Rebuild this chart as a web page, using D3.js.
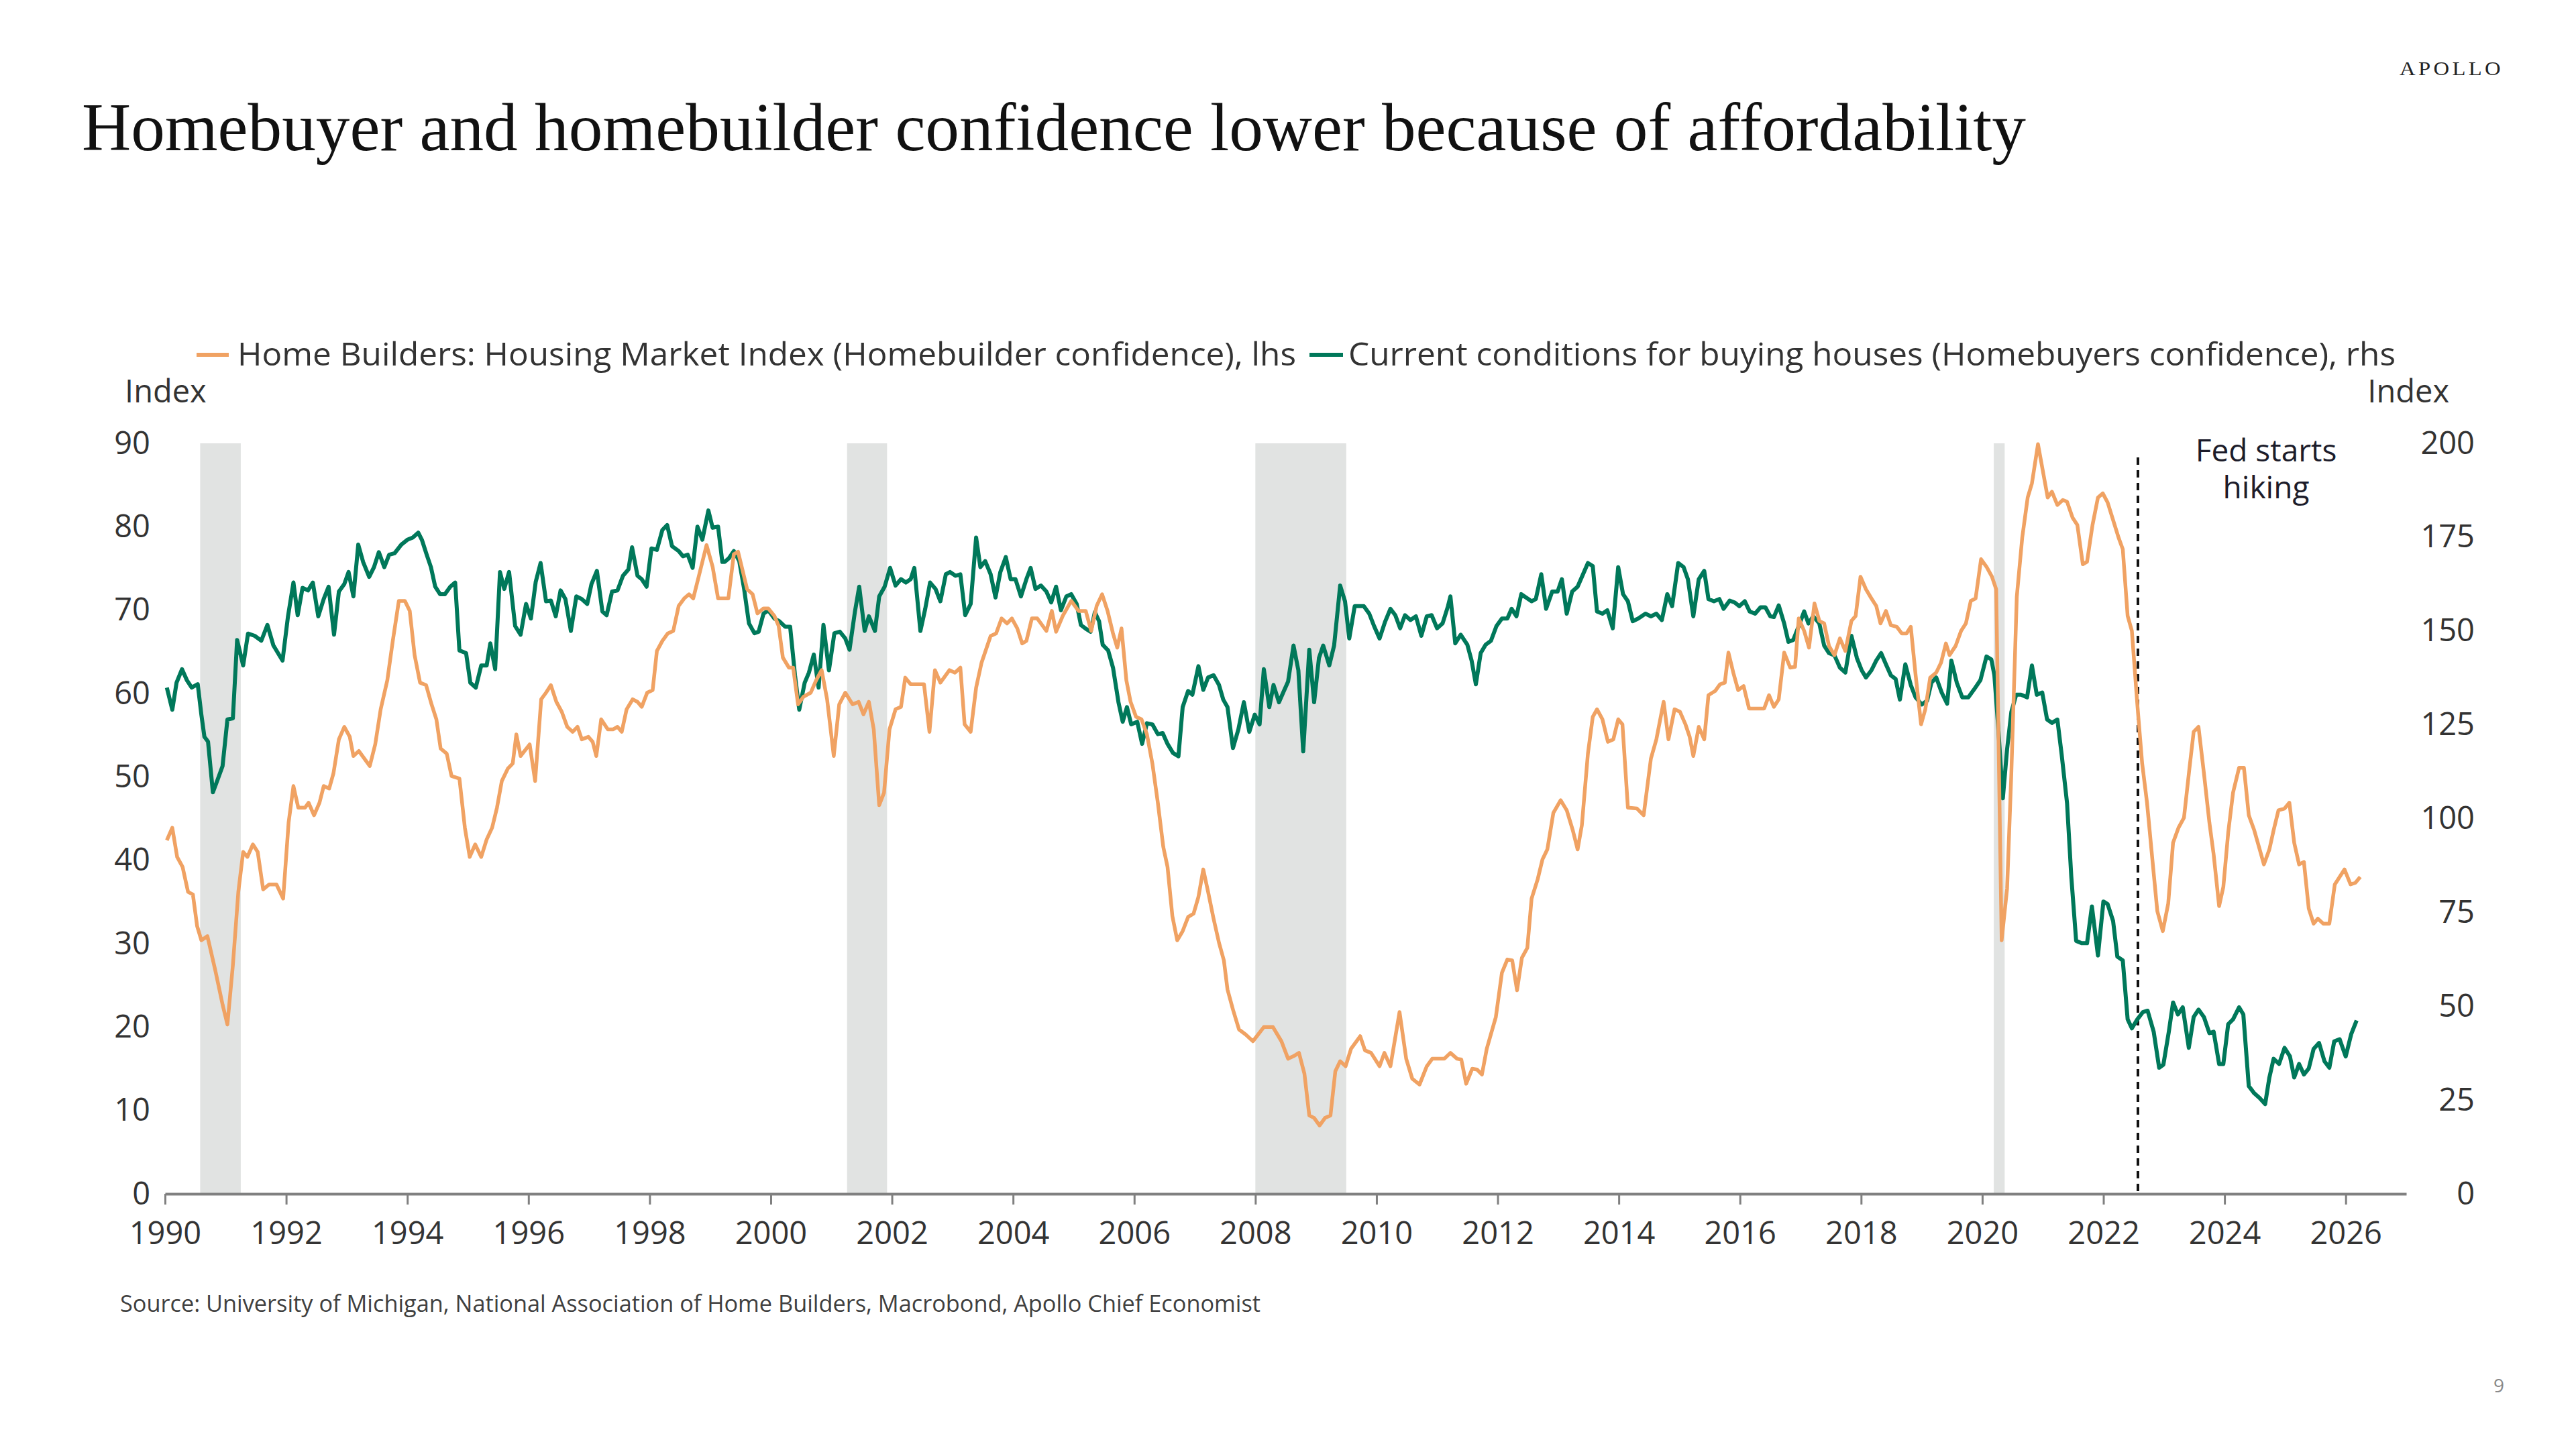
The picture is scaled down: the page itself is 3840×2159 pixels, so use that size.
<!DOCTYPE html>
<html><head><meta charset="utf-8">
<script src="https://cdn.jsdelivr.net/npm/d3@7"></script>
<style>body{margin:0;background:#fff} svg{display:block}</style>
</head><body>
<svg id="c" width="3840" height="2159"></svg>
<script>
// ---------- data ----------
const xTickYears = [1990,1992,1994,1996,1998,2000,2002,2004,2006,2008,2010,2012,2014,2016,2018,2020,2022,2024,2026];
const leftTicks = [0,10,20,30,40,50,60,70,80,90];
const rightTicks = [0,25,50,75,100,125,150,175,200];
const recessions = [[1990.58,1991.25],[2001.26,2001.92],[2008.0,2009.5],[2020.19,2020.37]];
const fedHike = 2022.57;
const titleText = "Homebuyer and homebuilder confidence lower because of affordability";
const legendLabels = ["Home Builders: Housing Market Index (Homebuilder confidence), lhs",
                      "Current conditions for buying houses (Homebuyers confidence), rhs"];
const sourceText = "Source: University of Michigan, National Association of Home Builders, Macrobond, Apollo Chief Economist";

// Home builders HMI (lhs) [decimal year, index]
const builderConfidence = [
[1990.03,42.4],[1990.12,43.9],[1990.20,40.4],[1990.29,39.2],[1990.38,36.2],[1990.46,35.9],[1990.53,32.1],[1990.60,30.4],[1990.70,30.9],[1990.83,26.8],[1990.95,22.7],[1991.03,20.3],[1991.12,27.4],[1991.21,36.2],[1991.29,41.0],[1991.36,40.4],[1991.45,41.9],[1991.53,41.0],[1991.62,36.5],[1991.72,37.1],[1991.84,37.1],[1991.95,35.4],
[1992.04,44.5],[1992.12,48.9],[1992.20,46.3],[1992.31,46.3],[1992.37,46.9],[1992.46,45.4],[1992.55,46.9],[1992.62,48.9],[1992.71,48.6],[1992.78,50.4],[1992.87,54.5],[1992.96,56.0],[1993.05,54.8],[1993.11,52.5],[1993.20,53.1],[1993.38,51.3],[1993.47,53.9],[1993.56,58.1],[1993.67,61.6],[1993.76,66.3],[1993.86,71.1],[1993.96,71.1],
[1994.04,69.9],[1994.12,64.6],[1994.21,61.3],[1994.31,61.0],[1994.40,58.7],[1994.48,56.9],[1994.55,53.4],[1994.65,52.8],[1994.73,50.1],[1994.86,49.8],[1994.95,43.9],[1995.03,40.4],[1995.12,41.9],[1995.22,40.4],[1995.31,42.5],[1995.40,43.9],[1995.48,46.3],[1995.56,49.5],[1995.66,51.0],[1995.74,51.6],[1995.80,55.1],[1995.87,52.5],
[1996.02,53.9],[1996.11,49.5],[1996.21,59.3],[1996.29,60.1],[1996.37,61.0],[1996.46,59.0],[1996.55,57.8],[1996.64,56.0],[1996.73,55.4],[1996.81,56.0],[1996.88,54.5],[1996.99,54.8],[1997.06,54.2],[1997.12,52.5],[1997.20,56.9],[1997.31,55.7],[1997.40,55.7],[1997.47,56.0],[1997.54,55.4],[1997.62,58.1],[1997.72,59.3],[1997.80,59.0],[1997.87,58.4],[1997.96,60.1],
[1998.05,60.4],[1998.12,65.1],[1998.21,66.3],[1998.30,67.2],[1998.39,67.5],[1998.48,70.5],[1998.57,71.4],[1998.65,71.9],[1998.72,71.4],[1998.81,74.0],[1998.94,77.8],[1999.04,75.2],[1999.13,71.4],[1999.24,71.4],[1999.30,71.4],[1999.39,76.7],[1999.46,77.0],[1999.54,74.6],[1999.61,72.5],[1999.70,71.9],[1999.78,69.6],[1999.88,70.2],[1999.96,70.2],
[2000.06,69.3],[2000.13,68.1],[2000.20,64.3],[2000.30,63.1],[2000.37,63.1],[2000.45,58.7],[2000.54,59.6],[2000.66,60.1],[2000.75,61.6],[2000.84,62.8],[2000.93,59.3],[2001.04,52.5],[2001.13,58.7],[2001.23,60.1],[2001.35,58.7],[2001.45,59.0],[2001.53,57.5],[2001.62,59.0],[2001.70,55.7],[2001.79,46.6],[2001.87,48.1],[2001.96,55.7],
[2002.06,58.1],[2002.15,58.4],[2002.22,61.9],[2002.31,61.1],[2002.53,61.1],[2002.62,55.4],[2002.71,62.8],[2002.80,61.3],[2002.95,62.8],[2003.04,62.5],[2003.13,63.1],[2003.20,56.3],[2003.30,55.4],[2003.39,60.7],[2003.48,63.7],[2003.63,66.9],[2003.72,67.2],[2003.81,69.0],[2003.90,68.4],[2003.98,69.0],
[2004.07,67.8],[2004.15,66.0],[2004.22,66.3],[2004.31,69.0],[2004.40,69.0],[2004.55,67.5],[2004.64,69.9],[2004.71,67.4],[2004.82,69.3],[2004.96,71.1],[2005.08,69.9],[2005.20,69.9],[2005.29,67.5],[2005.38,70.5],[2005.47,71.9],[2005.56,69.9],[2005.65,67.2],[2005.72,65.5],[2005.79,67.8],[2005.87,61.6],[2005.94,59.0],
[2006.03,57.2],[2006.12,56.9],[2006.21,55.1],[2006.30,51.6],[2006.39,46.9],[2006.48,41.6],[2006.55,39.2],[2006.63,33.3],[2006.71,30.4],[2006.80,31.5],[2006.89,33.2],[2006.98,33.6],[2007.06,35.6],[2007.14,38.9],[2007.22,36.2],[2007.31,33.0],[2007.40,30.1],[2007.48,28.0],[2007.54,24.5],[2007.63,22.1],[2007.73,19.7],[2007.84,19.1],[2007.96,18.3],
[2008.14,20.0],[2008.29,20.0],[2008.43,18.3],[2008.54,16.2],[2008.63,16.5],[2008.72,16.9],[2008.81,14.4],[2008.89,9.4],[2008.97,9.1],[2009.06,8.2],[2009.15,9.1],[2009.24,9.4],[2009.32,14.7],[2009.40,15.9],[2009.49,15.3],[2009.58,17.4],[2009.73,18.9],[2009.81,17.2],[2009.91,16.9],
[2010.05,15.3],[2010.13,16.9],[2010.23,15.3],[2010.38,21.8],[2010.49,16.2],[2010.59,13.8],[2010.71,13.1],[2010.83,15.3],[2010.92,16.2],[2011.12,16.2],[2011.22,16.9],[2011.33,16.2],[2011.40,16.1],[2011.48,13.2],[2011.58,15.0],[2011.66,14.9],[2011.74,14.3],[2011.82,17.4],[2011.97,21.2],
[2012.07,26.5],[2012.16,28.1],[2012.24,28.0],[2012.32,24.4],[2012.40,28.3],[2012.49,29.5],[2012.56,35.4],[2012.66,37.7],[2012.74,40.1],[2012.82,41.3],[2012.92,45.7],[2013.04,47.2],[2013.14,46.0],[2013.24,43.6],[2013.32,41.3],[2013.39,44.2],[2013.49,52.8],[2013.57,57.2],[2013.64,58.1],[2013.73,56.9],[2013.82,54.2],[2013.91,54.5],[2013.99,56.9],
[2014.06,56.3],[2014.15,46.3],[2014.30,46.2],[2014.41,45.4],[2014.53,52.2],[2014.62,54.5],[2014.74,59.0],[2014.82,54.5],[2014.92,58.1],[2015.01,57.8],[2015.10,56.3],[2015.17,54.8],[2015.23,52.5],[2015.32,56.0],[2015.41,54.5],[2015.48,59.8],[2015.59,60.3],[2015.67,61.1],[2015.75,61.3],[2015.81,64.9],[2015.89,62.5],[2015.97,60.4],
[2016.06,60.9],[2016.15,58.2],[2016.40,58.2],[2016.48,59.8],[2016.56,58.4],[2016.64,59.3],[2016.73,64.9],[2016.83,63.1],[2016.91,63.2],[2016.97,69.0],[2017.06,67.5],[2017.14,65.5],[2017.23,70.8],[2017.31,68.7],[2017.39,68.4],[2017.47,65.7],[2017.56,64.6],[2017.65,66.6],[2017.74,65.1],[2017.84,68.7],[2017.91,69.3],
[2017.99,74.0],[2018.08,72.5],[2018.17,71.4],[2018.25,70.5],[2018.32,68.4],[2018.41,69.9],[2018.49,68.2],[2018.59,68.0],[2018.67,67.2],[2018.75,67.2],[2018.82,68.0],[2018.90,62.2],[2018.99,56.3],[2019.06,58.1],[2019.14,61.9],[2019.24,62.5],[2019.32,63.7],[2019.40,66.0],[2019.46,64.6],[2019.56,65.7],[2019.65,67.5],[2019.73,68.4],[2019.81,71.1],[2019.89,71.4],
[2019.98,76.1],[2020.07,75.2],[2020.16,74.0],[2020.23,72.5],[2020.32,30.4],[2020.41,36.6],[2020.48,50.4],[2020.57,71.6],[2020.66,78.7],[2020.75,83.5],[2020.82,85.2],[2020.92,89.9],[2021.00,86.7],[2021.08,83.5],[2021.15,84.2],[2021.24,82.6],[2021.33,83.2],[2021.40,83.0],[2021.49,81.1],[2021.57,80.2],[2021.66,75.5],[2021.73,75.8],[2021.82,80.2],[2021.91,83.5],
[2021.99,84.0],[2022.07,82.9],[2022.16,80.8],[2022.25,78.7],[2022.32,77.3],[2022.40,69.3],[2022.47,67.5],[2022.56,58.7],[2022.64,51.6],[2022.72,46.9],[2022.82,39.2],[2022.89,33.9],[2022.98,31.5],[2023.07,34.8],[2023.15,42.1],[2023.24,43.9],[2023.33,45.1],[2023.42,51.0],[2023.49,55.4],[2023.57,56.0],[2023.66,50.4],[2023.75,44.5],[2023.82,40.7],[2023.91,34.5],
[2023.98,36.8],[2024.06,43.3],[2024.14,48.1],[2024.24,51.1],[2024.32,51.1],[2024.40,45.4],[2024.49,43.6],[2024.58,41.3],[2024.65,39.5],[2024.74,41.3],[2024.81,43.6],[2024.89,46.0],[2024.99,46.2],[2025.07,46.9],[2025.15,42.1],[2025.23,39.5],[2025.31,39.8],[2025.39,34.2],[2025.47,32.4],[2025.54,33.0],[2025.63,32.4],[2025.73,32.4],[2025.82,37.1],[2025.90,38.0],[2025.98,38.9],[2026.08,37.1],[2026.16,37.3],[2026.24,38.0]
];

// Buying conditions for houses (rhs) [decimal year, index]
const buyerConfidence = [
[1990.03,134.9],[1990.12,129.0],[1990.19,136.2],[1990.28,139.8],[1990.36,136.9],[1990.44,134.9],[1990.54,135.8],[1990.60,127.7],[1990.65,121.8],[1990.71,120.5],[1990.79,107.0],[1990.86,110.0],[1990.95,114.0],[1991.03,126.4],[1991.12,126.7],[1991.19,147.6],[1991.29,140.8],[1991.37,149.3],[1991.48,148.7],[1991.59,147.4],[1991.69,151.6],[1991.79,146.1],[1991.94,142.1],
[1992.03,153.9],[1992.12,162.9],[1992.19,154.2],[1992.27,161.5],[1992.36,160.8],[1992.44,162.9],[1992.53,153.9],[1992.62,158.5],[1992.70,161.8],[1992.79,149.0],[1992.87,160.5],[1992.96,162.5],[1993.03,165.7],[1993.11,159.2],[1993.19,173.0],[1993.27,168.4],[1993.37,164.4],[1993.45,167.0],[1993.53,171.0],[1993.62,167.0],[1993.70,170.3],[1993.79,170.7],[1993.90,173.0],
[1994.00,174.3],[1994.09,174.9],[1994.18,176.2],[1994.24,174.3],[1994.32,170.3],[1994.39,167.0],[1994.46,161.8],[1994.54,159.8],[1994.62,159.8],[1994.71,161.8],[1994.79,162.9],[1994.86,144.8],[1994.97,144.1],[1995.04,136.2],[1995.13,134.9],[1995.22,140.8],[1995.31,140.8],[1995.37,146.7],[1995.45,139.8],[1995.53,165.7],[1995.60,161.2],[1995.68,165.7],[1995.78,151.3],[1995.87,149.0],[1995.96,157.2],
[1996.04,153.3],[1996.12,163.1],[1996.20,168.1],[1996.29,157.9],[1996.37,158.1],[1996.45,153.9],[1996.53,160.8],[1996.61,158.5],[1996.70,150.0],[1996.79,159.2],[1996.88,158.5],[1996.97,157.2],[1997.04,162.5],[1997.13,166.0],[1997.22,155.2],[1997.29,154.2],[1997.38,160.5],[1997.47,160.8],[1997.56,164.7],[1997.65,166.4],[1997.71,172.3],[1997.80,164.7],[1997.87,163.8],[1997.95,161.8],
[1998.03,172.0],[1998.12,171.6],[1998.21,176.9],[1998.29,178.2],[1998.37,172.6],[1998.48,171.3],[1998.55,169.9],[1998.63,170.3],[1998.71,166.8],[1998.79,177.8],[1998.87,174.3],[1998.97,182.1],[1999.04,177.5],[1999.13,177.8],[1999.20,168.4],[1999.24,168.4],[1999.31,169.4],[1999.39,171.3],[1999.48,168.6],[1999.56,161.2],[1999.64,152.0],[1999.73,149.4],[1999.80,149.8],[1999.88,154.6],[1999.96,155.5],
[2000.06,153.3],[2000.14,152.6],[2000.24,151.1],[2000.32,151.1],[2000.40,138.2],[2000.47,129.0],[2000.56,136.2],[2000.63,138.9],[2000.71,143.7],[2000.79,134.9],[2000.87,151.6],[2000.96,139.5],[2001.05,149.4],[2001.14,149.8],[2001.23,148.0],[2001.30,145.0],[2001.39,155.2],[2001.46,161.8],[2001.55,150.0],[2001.62,153.9],[2001.72,150.0],[2001.79,159.2],[2001.88,161.8],[2001.97,166.8],
[2002.06,162.1],[2002.15,163.8],[2002.23,162.9],[2002.31,163.8],[2002.37,166.8],[2002.47,150.0],[2002.55,155.9],[2002.63,162.9],[2002.72,161.2],[2002.80,157.9],[2002.89,165.1],[2002.96,165.7],[2003.05,164.7],[2003.13,165.1],[2003.21,154.2],[2003.30,157.2],[2003.39,174.9],[2003.46,167.0],[2003.54,168.6],[2003.63,165.1],[2003.71,158.9],[2003.79,165.7],[2003.88,169.7],[2003.96,163.8],
[2004.04,163.8],[2004.13,159.2],[2004.22,163.8],[2004.29,166.8],[2004.37,161.2],[2004.46,162.1],[2004.55,160.5],[2004.63,157.6],[2004.71,161.8],[2004.79,155.5],[2004.88,159.2],[2004.96,159.8],[2005.05,157.2],[2005.12,151.6],[2005.20,150.6],[2005.28,149.8],[2005.35,155.0],[2005.42,152.6],[2005.48,146.3],[2005.57,144.8],[2005.65,140.2],[2005.74,131.0],[2005.81,125.8],[2005.88,129.7],[2005.95,125.1],
[2006.05,125.8],[2006.13,119.9],[2006.21,125.4],[2006.30,125.1],[2006.39,122.5],[2006.47,122.8],[2006.55,119.9],[2006.64,117.5],[2006.73,116.6],[2006.80,129.7],[2006.89,134.0],[2006.96,133.0],[2007.06,140.6],[2007.14,134.3],[2007.22,137.6],[2007.31,138.2],[2007.40,135.6],[2007.47,131.7],[2007.54,129.7],[2007.63,118.8],[2007.72,123.8],[2007.81,131.0],[2007.90,123.1],[2007.99,127.7],
[2008.07,125.1],[2008.14,139.8],[2008.23,129.7],[2008.30,135.6],[2008.39,131.0],[2008.46,133.6],[2008.54,136.5],[2008.63,146.1],[2008.71,139.5],[2008.79,117.9],[2008.89,145.0],[2008.97,131.0],[2009.05,142.8],[2009.12,146.1],[2009.22,140.8],[2009.30,146.1],[2009.40,162.1],[2009.48,157.9],[2009.55,148.0],[2009.64,156.6],[2009.79,156.6],[2009.88,154.6],[2009.96,151.3],
[2010.05,148.0],[2010.14,152.4],[2010.23,155.9],[2010.31,154.2],[2010.39,150.7],[2010.47,154.2],[2010.56,152.9],[2010.65,153.9],[2010.74,148.7],[2010.83,153.9],[2010.91,154.2],[2011.00,150.7],[2011.09,152.0],[2011.18,156.6],[2011.22,159.2],[2011.30,146.7],[2011.39,149.0],[2011.50,146.3],[2011.57,142.1],[2011.64,135.8],[2011.72,144.1],[2011.80,146.3],[2011.89,147.4],[2011.98,151.3],
[2012.07,153.3],[2012.16,153.3],[2012.23,155.9],[2012.31,153.9],[2012.39,159.8],[2012.47,158.9],[2012.56,157.9],[2012.63,158.5],[2012.72,165.1],[2012.80,155.9],[2012.90,160.5],[2012.99,160.5],[2013.06,163.8],[2013.14,154.6],[2013.23,160.5],[2013.32,161.8],[2013.39,164.4],[2013.49,168.1],[2013.57,167.3],[2013.64,155.2],[2013.73,154.6],[2013.81,155.5],[2013.90,150.7],[2013.99,167.0],
[2014.07,159.8],[2014.15,157.9],[2014.23,152.6],[2014.32,153.3],[2014.44,154.6],[2014.53,153.9],[2014.62,154.6],[2014.71,152.9],[2014.80,159.8],[2014.88,156.6],[2014.98,168.1],[2015.07,167.0],[2015.14,163.8],[2015.23,153.9],[2015.32,163.8],[2015.41,166.0],[2015.48,158.5],[2015.57,157.9],[2015.66,158.5],[2015.73,155.9],[2015.83,158.1],[2015.91,157.6],[2015.99,156.6],
[2016.08,157.9],[2016.16,155.2],[2016.25,154.6],[2016.34,156.3],[2016.42,156.3],[2016.50,153.9],[2016.56,153.7],[2016.64,156.8],[2016.73,152.0],[2016.80,147.1],[2016.88,147.6],[2016.97,151.3],[2017.06,155.2],[2017.13,152.0],[2017.21,153.9],[2017.31,152.0],[2017.39,146.1],[2017.47,144.1],[2017.56,143.5],[2017.65,140.2],[2017.74,138.9],[2017.84,148.7],
[2017.93,142.8],[2018.01,139.5],[2018.08,137.6],[2018.17,139.5],[2018.25,142.1],[2018.33,144.1],[2018.41,141.1],[2018.49,138.2],[2018.57,137.2],[2018.64,131.7],[2018.73,141.1],[2018.82,135.6],[2018.90,132.3],[2019.00,130.4],[2019.09,131.4],[2019.16,136.2],[2019.24,137.6],[2019.33,133.6],[2019.42,130.6],[2019.49,142.1],[2019.58,136.2],[2019.67,132.3],[2019.77,132.3],[2019.86,134.3],[2019.97,136.9],
[2020.07,143.2],[2020.15,142.4],[2020.20,138.2],[2020.26,125.1],[2020.34,105.4],[2020.41,118.5],[2020.48,128.4],[2020.56,133.0],[2020.64,133.0],[2020.74,132.3],[2020.82,140.8],[2020.90,133.0],[2020.99,133.6],[2021.07,126.4],[2021.15,125.5],[2021.24,126.4],[2021.31,117.2],[2021.40,104.1],[2021.47,84.5],[2021.55,67.4],[2021.64,66.8],[2021.73,66.8],[2021.81,76.6],[2021.91,63.5],
[2022.00,77.9],[2022.07,77.2],[2022.16,72.7],[2022.23,63.2],[2022.32,62.2],[2022.40,46.5],[2022.47,44.1],[2022.56,46.5],[2022.65,48.4],[2022.73,48.8],[2022.83,43.2],[2022.92,33.6],[2022.99,34.4],[2023.08,43.2],[2023.15,51.0],[2023.23,47.8],[2023.31,49.7],[2023.41,38.9],[2023.49,47.1],[2023.57,49.1],[2023.66,47.1],[2023.75,42.8],[2023.82,43.2],[2023.91,34.6],[2023.98,34.6],
[2024.06,45.2],[2024.14,46.5],[2024.24,49.7],[2024.31,47.8],[2024.40,28.7],[2024.49,26.8],[2024.58,25.5],[2024.67,23.9],[2024.74,31.0],[2024.81,36.0],[2024.90,34.6],[2024.99,38.9],[2025.08,36.6],[2025.15,31.0],[2025.23,34.6],[2025.31,31.8],[2025.39,33.4],[2025.47,38.6],[2025.56,40.2],[2025.65,35.3],[2025.73,33.6],[2025.81,40.6],[2025.90,41.2],[2026.00,36.6],[2026.09,42.5],[2026.18,46.2]
];

// ---------- drawing ----------
const ORANGE = "#F0A263", GREEN = "#00785A", SANS = "'Open Sans', sans-serif", SERIF = "'Liberation Serif', serif";
const svg = d3.select("#c");
const plot = {left:246, right:3587, top:661, bottom:1780};

const x = d3.scaleLinear().domain([1990, 2027]).range([plot.left, plot.right]);
const yL = d3.scaleLinear().domain([0, 90]).range([plot.bottom, plot.top]);
const yR = d3.scaleLinear().domain([0, 200]).range([plot.bottom, plot.top]);

function fit(sel, w){ sel.attr("textLength", w).attr("lengthAdjust", "spacingAndGlyphs"); return sel; }

// Title & branding
fit(svg.append("text").attr("x",122).attr("y",224).attr("font-family",SERIF).attr("font-size",101)
  .attr("fill","#111").text(titleText), 2898);
fit(svg.append("text").attr("x",3577).attr("y",112).attr("font-family",SERIF).attr("font-size",30)
  .attr("letter-spacing",4).attr("fill","#222").text("APOLLO"), 155);

// Legend
const legendItems = [
  {color:ORANGE, x1:293, x2:341, tx:354, w:1578, label:legendLabels[0]},
  {color:GREEN,  x1:1952, x2:2002, tx:2010, w:1561, label:legendLabels[1]}
];
legendItems.forEach(d=>{
  svg.append("line").attr("x1",d.x1).attr("x2",d.x2).attr("y1",529).attr("y2",529)
    .attr("stroke",d.color).attr("stroke-width",6);
  fit(svg.append("text").attr("x",d.tx).attr("y",545).attr("font-family",SANS).attr("font-size",47)
    .attr("fill","#333").text(d.label), d.w);
});

// Axis titles
svg.append("text").attr("x",186).attr("y",600).attr("font-family",SANS).attr("font-size",47).attr("fill","#333").text("Index");
svg.append("text").attr("x",3651).attr("y",600).attr("text-anchor","end").attr("font-family",SANS).attr("font-size",47).attr("fill","#333").text("Index");

// Recession shading
svg.append("g").selectAll("rect").data(recessions).join("rect")
  .attr("x", d=>x(d[0])).attr("width", d=>x(d[1])-x(d[0]))
  .attr("y", plot.top).attr("height", plot.bottom-plot.top)
  .attr("fill", "#E1E3E2");

// Left axis
const gL = svg.append("g").attr("transform",`translate(224,0)`)
  .call(d3.axisLeft(yL).tickValues(leftTicks).tickSize(0).tickPadding(0));
gL.select(".domain").remove();
gL.selectAll("text").attr("font-family",SANS).attr("font-size",47).attr("fill","#333");

// Right axis
const gR = svg.append("g").attr("transform",`translate(3689,0)`)
  .call(d3.axisRight(yR).tickValues(rightTicks).tickSize(0).tickPadding(0));
gR.select(".domain").remove();
gR.selectAll("text").attr("text-anchor","end").attr("x",0).attr("font-family",SANS).attr("font-size",47).attr("fill","#333");

// Bottom axis
const gB = svg.append("g").attr("transform",`translate(0,${plot.bottom})`)
  .call(d3.axisBottom(x).tickValues(xTickYears).tickFormat(d3.format("d")).tickSizeInner(16).tickSizeOuter(0).tickPadding(26));
gB.select(".domain").attr("stroke","#808080").attr("stroke-width",4);
gB.selectAll(".tick line").attr("stroke","#808080").attr("stroke-width",3);
gB.selectAll("text").attr("font-family",SANS).attr("font-size",47).attr("fill","#333");

// Fed hiking line
svg.append("line").attr("x1",x(fedHike)).attr("x2",x(fedHike)).attr("y1",682).attr("y2",plot.bottom)
  .attr("stroke","#111").attr("stroke-width",4).attr("stroke-dasharray","11,8");
const fedX = 3378;
svg.append("text").attr("x",fedX).attr("y",688).attr("text-anchor","middle").attr("font-family",SANS).attr("font-size",46).attr("fill","#1c1c2a").text("Fed starts");
svg.append("text").attr("x",fedX).attr("y",743).attr("text-anchor","middle").attr("font-family",SANS).attr("font-size",46).attr("fill","#1c1c2a").text("hiking");

// Lines
const lineR = d3.line().x(d=>x(d[0])).y(d=>yR(d[1]));
const lineL = d3.line().x(d=>x(d[0])).y(d=>yL(d[1]));
svg.append("path").datum(buyerConfidence).attr("d",lineR).attr("fill","none")
  .attr("stroke",GREEN).attr("stroke-width",6).attr("stroke-linejoin","round");
svg.append("path").datum(builderConfidence).attr("d",lineL).attr("fill","none")
  .attr("stroke",ORANGE).attr("stroke-width",5.5).attr("stroke-linejoin","round");

// Source & page number
fit(svg.append("text").attr("x",179).attr("y",1956).attr("font-family",SANS).attr("font-size",34)
  .attr("fill","#404040").text(sourceText), 1700);
svg.append("text").attr("x",3725).attr("y",2076).attr("text-anchor","middle").attr("font-family",SANS).attr("font-size",28).attr("fill","#888").text("9");
</script>
</body></html>
